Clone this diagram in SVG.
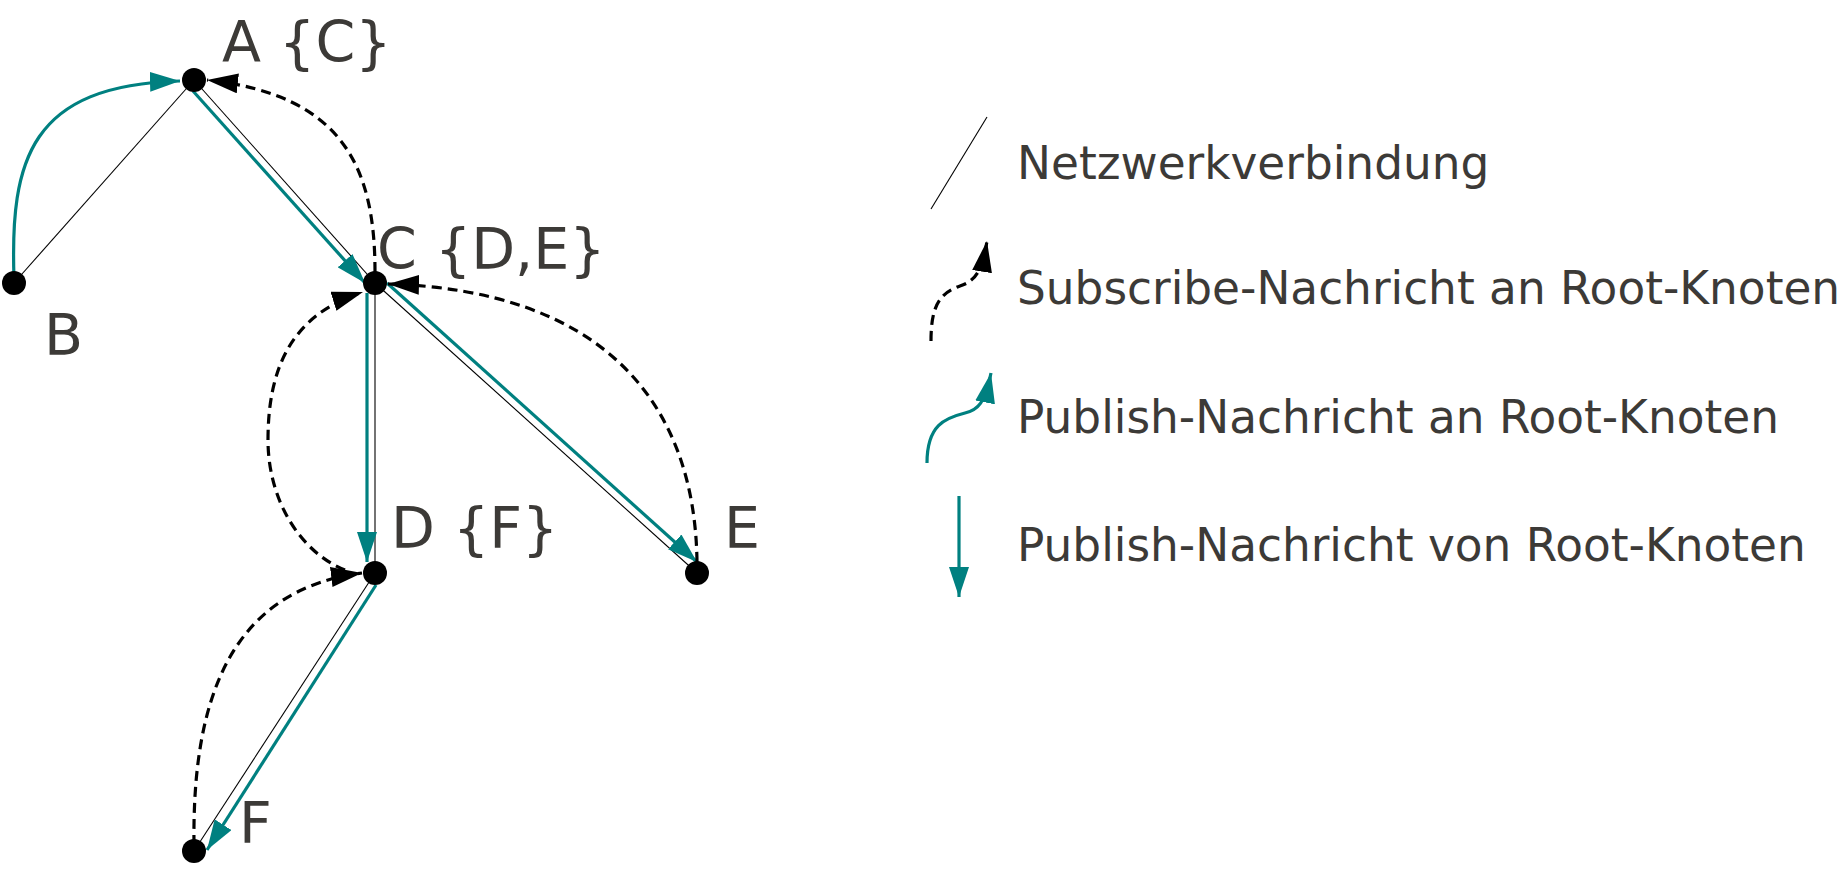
<svg xmlns="http://www.w3.org/2000/svg" width="1846" height="877" viewBox="0 0 1846 877">
  <style>
    .net { stroke: #000; stroke-width: 1.1; fill: none; }
    .pub { stroke: #008080; stroke-width: 3.2; fill: none; marker-end: url(#arrT); }
    .sub { stroke: #000; stroke-width: 3.2; fill: none; stroke-dasharray: 10 6; marker-end: url(#arrB); }
    .node { fill: #000; }
    .lbl { font-family: "DejaVu Sans", sans-serif; font-size: 57px; fill: #3c3a37; }
    .leg { font-family: "DejaVu Sans", sans-serif; font-size: 45.4px; fill: #3c3a37; }
  </style>
  <defs>
    <marker id="arrT" markerUnits="userSpaceOnUse" markerWidth="30" markerHeight="20" refX="30" refY="10" orient="auto" viewBox="0 0 30 20">
      <path d="M0,0 L30,10 L0,20 z" fill="#008080"/>
    </marker>
    <marker id="arrB" markerUnits="userSpaceOnUse" markerWidth="31" markerHeight="20" refX="31" refY="10" orient="auto" viewBox="0 0 31 20">
      <path d="M0,0 L31,10 L0,20 z" fill="#000"/>
    </marker>
  </defs>
  <rect width="1846" height="877" fill="#fff"/>

  <g id="connectors">
    <!-- network links -->
    <line class="net" x1="14" y1="283" x2="194" y2="80"/>
    <line class="net" x1="194" y1="80" x2="375" y2="283"/>
    <line class="net" x1="375" y1="283" x2="375" y2="573"/>
    <line class="net" x1="375" y1="283" x2="697" y2="573"/>
    <line class="net" x1="375" y1="573" x2="194" y2="851"/>
    <!-- publish messages -->
    <path class="pub" d="M14,278 C10,160 30,85 180,81"/>
    <path class="pub" d="M193,91 L365,283"/>
    <path class="pub" d="M367,293 L367,562"/>
    <path class="pub" d="M387,283 L697,562"/>
    <path class="pub" d="M376,585 L207,850"/>
    <!-- subscribe messages -->
    <path class="sub" d="M375,272 C375,170 345,95 207,80"/>
    <path class="sub" d="M697,562 C695,400 600,290 388,284"/>
    <path class="sub" d="M345,570 C300,552 268,500 268,440 C268,370 290,315 363,292"/>
    <path class="sub" d="M194,845 C192,700 230,590 362,573"/>
  </g>

  <g id="node-A">
    <circle class="node" cx="194" cy="80" r="12"/>
    <text class="lbl" x="222" y="62">A {C}</text>
  </g>
  <g id="node-B">
    <circle class="node" cx="14" cy="283" r="12"/>
    <text class="lbl" x="44" y="355">B</text>
  </g>
  <g id="node-C">
    <circle class="node" cx="375" cy="283" r="12"/>
    <text class="lbl" x="377" y="269">C {D,E}</text>
  </g>
  <g id="node-D">
    <circle class="node" cx="375" cy="573" r="12"/>
    <text class="lbl" x="391" y="548">D {F}</text>
  </g>
  <g id="node-E">
    <circle class="node" cx="697" cy="573" r="12"/>
    <text class="lbl" x="724" y="548">E</text>
  </g>
  <g id="node-F">
    <circle class="node" cx="194" cy="851" r="12"/>
    <text class="lbl" x="239" y="843">F</text>
  </g>

  <g id="legend">
    <line class="net" x1="987" y1="117" x2="931" y2="209"/>
    <text class="leg" x="1017" y="179">Netzwerkverbindung</text>
    <path class="sub" d="M931,341 C931,305 940,293 960,286 C975,281 982,272 987,241"/>
    <text class="leg" x="1017" y="304">Subscribe-Nachricht an Root-Knoten</text>
    <path class="pub" d="M927,463 C927,425 945,418 965,413 C978,410 985,403 991,373"/>
    <text class="leg" x="1017" y="433">Publish-Nachricht an Root-Knoten</text>
    <path class="pub" d="M959,496 L959,597"/>
    <text class="leg" x="1017" y="561">Publish-Nachricht von Root-Knoten</text>
  </g>
</svg>
